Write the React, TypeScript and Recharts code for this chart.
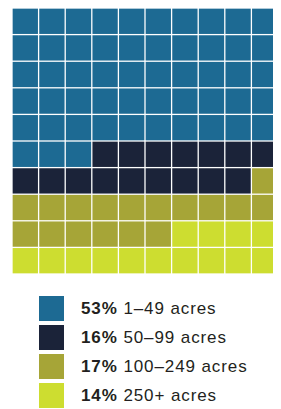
import { ScatterChart, Scatter, XAxis, YAxis } from "recharts";

const categories = ["1–49 acres", "50–99 acres", "100–249 acres", "250+ acres"];
const shares = [53, 16, 17, 14];
const colors = ["#1d6a93", "#1b2339", "#a6a537", "#cddd30"];

const COLS = 10;
const CELL = 25.3;

// lay the 100 squares out row by row, left to right
const groups = (() => {
  let idx = 0;
  return categories.map((name, g) => {
    const pts: { x: number; y: number }[] = [];
    for (let k = 0; k < shares[g]; k++) {
      pts.push({ x: (idx % COLS) + 0.5, y: Math.floor(idx / COLS) + 0.5 });
      idx++;
    }
    return { name, color: colors[g], pts };
  });
})();

const square = (color: string) => (props: any) => (
  <rect
    x={props.cx - CELL / 2}
    y={props.cy - CELL / 2}
    width={CELL}
    height={CELL}
    fill={color}
  />
);

export default function App() {
  return (
    <div style={{ width: 273, fontFamily: "'Liberation Sans', Arial, sans-serif" }}>
      <ScatterChart width={273} height={266} margin={{ top: 0, right: 3, bottom: 0, left: 4 }}>
        <XAxis type="number" dataKey="x" domain={[0, 10]} hide />
        <YAxis type="number" dataKey="y" domain={[0, 10]} reversed hide />
        {groups.map((g) => (
          <Scatter
            key={g.name}
            name={g.name}
            data={g.pts}
            fill={g.color}
            shape={square(g.color)}
            isAnimationActive={false}
          />
        ))}
      </ScatterChart>
      <div style={{ marginTop: 22, marginLeft: 31 }}>
        {categories.map((c, i) => (
          <div
            key={c}
            style={{ display: "flex", alignItems: "center", height: 25, marginBottom: 4 }}
          >
            <div style={{ width: 25, height: 25, background: colors[i] }} />
            <div
              style={{
                marginLeft: 17,
                fontSize: 17,
                letterSpacing: 0.9,
                color: "#231f20",
                whiteSpace: "nowrap",
                marginTop: 1,
              }}
            >
              <b>{shares[i]}%</b> {c}
            </div>
          </div>
        ))}
      </div>
    </div>
  );
}
